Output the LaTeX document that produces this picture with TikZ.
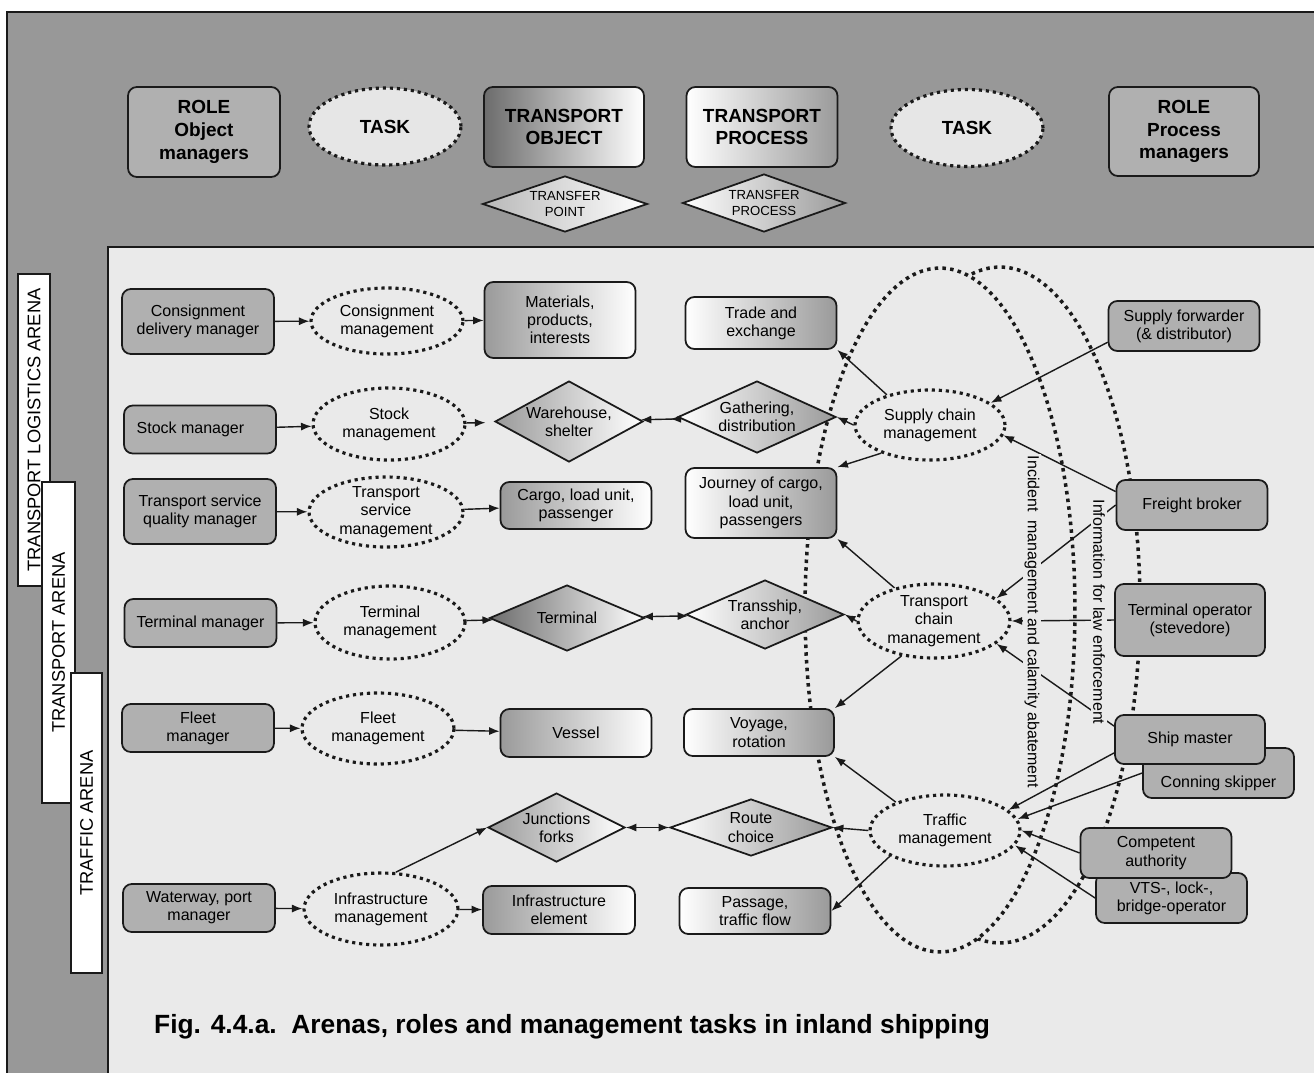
\documentclass[tikz,border=0pt]{standalone}
\usepackage{fontspec}
\setmainfont{Liberation Sans}
\usetikzlibrary{shapes}
\usetikzlibrary{arrows.meta}

\definecolor{framegray}{HTML}{989898}
\definecolor{panelgray}{HTML}{EAEAEA}
\definecolor{rolegray}{HTML}{B0B0B0}
\definecolor{taskgray}{HTML}{E6E6E6}
\definecolor{shadegray}{HTML}{9A9A9A}
\definecolor{darkshade}{HTML}{6C6C6C}
\definecolor{lightshade}{HTML}{B8B8B8}
\definecolor{inkgray}{HTML}{1A1A1A}

\newcommand{\diagfont}{\fontsize{9.1}{10.4}\selectfont}
\newcommand{\diaghead}{\fontsize{10.8}{13}\selectfont\bfseries}
\newcommand{\diagsmall}{\fontsize{7.5}{8.6}\selectfont}
\newcommand{\diagarena}{\fontsize{10.4}{12}\selectfont}
\newcommand{\diagcaption}{\fontsize{15}{18}\selectfont\bfseries}

\begin{document}
\begin{tikzpicture}[x=0.02cm, y=-0.02cm]

\tikzstyle{role}=[rectangle, rounded corners=5pt, line width=1pt, draw=inkgray, fill=rolegray, align=center, inner sep=2pt, font=\diagfont]
\tikzstyle{task}=[ellipse, line width=1.8pt, dash pattern=on 1.8pt off 2.2pt, draw=inkgray, align=center, inner sep=0pt, font=\diagfont]
\tikzstyle{object}=[rectangle, rounded corners=5pt, line width=1pt, draw=inkgray, left color=shadegray, right color=white, align=center, inner sep=2pt, font=\diagfont]
\tikzstyle{process}=[rectangle, rounded corners=5pt, line width=1pt, draw=inkgray, left color=white, right color=shadegray, align=center, inner sep=2pt, font=\diagfont]
\tikzstyle{objpoint}=[diamond, aspect=2, line width=1pt, draw=inkgray, left color=shadegray, right color=white, align=center, inner sep=0pt, font=\diagfont]
\tikzstyle{procpoint}=[diamond, aspect=2, line width=1pt, draw=inkgray, left color=white, right color=shadegray, align=center, inner sep=0pt, font=\diagfont]
\tikzstyle{arena}=[rectangle, line width=1pt, draw=inkgray, fill=white, rotate=90, inner sep=0pt, font=\diagarena]
\tikzstyle{ring}=[ellipse, line width=2pt, dash pattern=on 2pt off 2.4pt, draw=inkgray, fill=panelgray, inner sep=0pt]
\tikzstyle{note}=[rotate=-90, fill=panelgray, inner sep=1pt, font=\diagfont]

\tikzstyle{connect}=[draw=inkgray, line width=0.8pt, -{Latex[length=6pt,width=4.6pt]}]
\tikzstyle{bothways}=[{Latex[length=6pt,width=4.6pt]}-{Latex[length=6pt,width=4.6pt]}]
\tikzstyle{sameway}=[{Latex[reversed,length=6pt,width=4.6pt]}-{Latex[length=6pt,width=4.6pt]}]

\useasboundingbox (0,0) rectangle (1314,1073);

% frame and panel
\fill[framegray] (7,12) rectangle (1314,1073);
\draw[line width=1pt, inkgray] (1314,12) -- (7,12) -- (7,1073);
\fill[panelgray] (108,247) rectangle (1314,1073);
\draw[line width=1pt, inkgray] (1314,247) -- (108,247) -- (108,1073);

% arenas
\node[arena, minimum width=6.24cm, minimum height=0.64cm] (logarena) at (34,430) {TRANSPORT LOGISTICS ARENA};
\node[arena, minimum width=6.42cm, minimum height=0.66cm] (transarena) at (58.5,642.5) {TRANSPORT ARENA};
\node[arena, minimum width=6cm, minimum height=0.62cm] (trafarena) at (86.5,823) {TRAFFIC ARENA};

% header
\node[role, font=\diaghead, minimum width=3.04cm, minimum height=1.8cm] (roleobj) at (204,132) {ROLE\\Object\\managers};
\node[task, font=\diaghead, fill=taskgray, minimum width=3.04cm, minimum height=1.54cm] (taskobj) at (385,126.5) {TASK};
\node[object, font=\diaghead, left color=darkshade, minimum width=3.2cm, minimum height=1.6cm] (tobj) at (564,127) {TRANSPORT\\OBJECT};
\node[objpoint, aspect=2.9, font=\diagsmall, left color=lightshade, minimum width=3.3cm, minimum height=1.12cm] (tpoint) at (565,204) {TRANSFER\\POINT};
\node[process, font=\diaghead, minimum width=3.02cm, minimum height=1.6cm] (tproc) at (762,127) {TRANSPORT\\PROCESS};
\node[procpoint, aspect=2.8, font=\diagsmall, minimum width=3.26cm, minimum height=1.16cm] (tprocpoint) at (764,203) {TRANSFER\\PROCESS};
\node[task, font=\diaghead, fill=taskgray, minimum width=3.04cm, minimum height=1.54cm] (taskproc) at (967,128) {TASK};
\node[role, font=\diaghead, minimum width=3cm, minimum height=1.78cm] (roleproc) at (1184,131.5) {ROLE\\Process\\managers};

% the two big rings
\node[ring, minimum width=5.6cm, minimum height=13.52cm] (ringlaw) at (1000,605) {};
\node[ring, minimum width=5.4cm, minimum height=13.68cm] (ringincident) at (940,610) {};

% object side
\node[role, minimum width=3.04cm, minimum height=1.3cm] (cdm) at (198,321.5) {Consignment\\delivery manager};
\node[task, minimum width=3.04cm, minimum height=1.32cm] (cm) at (387,321) {Consignment\\management};
\node[object, minimum width=3.02cm, minimum height=1.52cm] (mat) at (560,320) {Materials,\\products,\\interests};

\node[role, minimum width=3.04cm, minimum height=0.96cm] (stm) at (200,429.5) {Stock manager\hspace*{1.2em}};
\node[task, minimum width=3.04cm, minimum height=1.44cm] (stmg) at (389,424) {Stock\\management};
\node[objpoint, aspect=1.8, minimum width=2.96cm, minimum height=1.62cm] (ware) at (569,421.5) {Warehouse,\\shelter};

\node[role, minimum width=3.04cm, minimum height=1.3cm] (tsqm) at (200,511.5) {Transport service\\quality manager};
\node[task, inner ysep=-7pt, minimum width=3.08cm, minimum height=1.4cm] (tsm) at (386,512) {Transport\\service\\management};
\node[object, minimum width=3.02cm, minimum height=0.94cm] (cargo) at (576,505.5) {Cargo, load unit,\\passenger};

\node[role, minimum width=3.04cm, minimum height=0.96cm] (tmgr) at (200.5,623) {Terminal manager};
\node[task, minimum width=3cm, minimum height=1.46cm] (tmg) at (390,622.5) {Terminal\\management};
\node[objpoint, aspect=2.35, left color=darkshade, minimum width=3.1cm, minimum height=1.32cm] (term) at (567,618) {Terminal};

\node[role, minimum width=3.04cm, minimum height=0.96cm] (fmgr) at (198,728) {Fleet\\manager};
\node[task, minimum width=3.04cm, minimum height=1.42cm] (fmg) at (378,728.5) {Fleet\\management};
\node[object, minimum width=3.02cm, minimum height=0.96cm] (vessel) at (576,733) {Vessel};

\node[role, minimum width=3.04cm, minimum height=0.96cm] (wpm) at (199,908) {Waterway, port\\manager};
\node[task, minimum width=3.08cm, minimum height=1.44cm] (img) at (381,909) {Infrastructure\\management};
\node[object, minimum width=3.04cm, minimum height=0.96cm] (infra) at (559,910) {Infrastructure\\element};
\node[objpoint, aspect=2, minimum width=2.74cm, minimum height=1.38cm] (junc) at (556.5,827.5) {Junctions\\forks};

% process side
\node[process, minimum width=3.02cm, minimum height=1.04cm] (trade) at (761,323) {Trade and\\exchange};
\node[procpoint, aspect=2.2, minimum width=3.16cm, minimum height=1.44cm] (gath) at (757,417) {Gathering,\\distribution};
\node[process, minimum width=3.02cm, minimum height=1.4cm] (journey) at (761,503) {Journey of cargo,\\load unit,\\passengers};
\node[procpoint, aspect=2.3, minimum width=3.16cm, minimum height=1.38cm] (trans) at (765,614.5) {Transship,\\anchor};
\node[process, minimum width=3cm, minimum height=0.94cm] (voyage) at (759,732.5) {Voyage,\\rotation};
\node[procpoint, aspect=2.85, minimum width=3.24cm, minimum height=1.14cm] (route) at (751,827.5) {Route\\choice};
\node[process, minimum width=3.02cm, minimum height=0.92cm] (passage) at (755,911) {Passage,\\traffic flow};

\node[task, minimum width=3cm, minimum height=1.4cm] (scm) at (930,425) {Supply chain\\management};
\node[task, inner ysep=-3pt, minimum width=3.04cm, minimum height=1.48cm] (tcm) at (934,621) {Transport\\chain\\management};
\node[task, minimum width=3cm, minimum height=1.42cm] (traffic) at (945,830.5) {Traffic\\management};

% process managers
\node[role, minimum width=3.02cm, minimum height=1cm] (sf) at (1184,326) {Supply forwarder\\(\& distributor)};
\node[role, minimum width=3.02cm, minimum height=1cm] (fb) at (1192,505) {Freight broker};
\node[role, minimum width=3cm, minimum height=1.44cm] (to) at (1190,620) {Terminal operator\\(stevedore)};
\node[role, text height=17pt, text depth=1pt, minimum width=3.02cm, minimum height=1cm] (cs) at (1218.5,773) {Conning skipper};
\node[role, minimum width=3cm, minimum height=0.98cm] (sm) at (1190,739.5) {Ship master};
\node[role, minimum width=3.02cm, minimum height=1cm] (vts) at (1171.5,898) {VTS-, lock-,\\bridge-operator};
\node[role, minimum width=3.02cm, minimum height=1cm] (ca) at (1156,853) {Competent\\authority};

% connections
\path (cdm) edge[connect] (cm);
\path (cm) edge[connect] (mat);
\path (stm) edge[connect] (stmg);
\path (stmg) edge[connect, shorten >=6pt] (ware);
\path (tsqm) edge[connect] (tsm);
\path (tsm) edge[connect] (cargo);
\path (tmgr) edge[connect] (tmg);
\path (tmg) edge[connect] (term);
\path (fmgr) edge[connect] (fmg);
\path (fmg) edge[connect] (vessel);
\path (wpm) edge[connect] (img);
\path (img) edge[connect] (infra);
\path (img.68) edge[connect] (junc.west);

\path (gath) edge[connect, sameway] (ware);
\path (term) edge[connect, bothways] (trans);
\path (junc) edge[connect, bothways] (route);

\path (scm.145) edge[connect] (trade.south east);
\path (scm.west) edge[connect] (gath.east);
\path (scm.210) edge[connect] (journey.north east);
\path (tcm.140) edge[connect] (journey.south east);
\path (tcm.west) edge[connect] (trans.east);
\path (tcm.227) edge[connect] (voyage.north east);
\path (traffic.150) edge[connect] (voyage.south east);
\path (traffic.west) edge[connect] (route.east);
\path (traffic.205) edge[connect] (passage.east);

\path (sf.192) edge[connect] (scm.20);
\path (fb.170) edge[connect] (scm.-8);
\path (fb.west) edge[connect] (tcm.20);
\path (to.west) edge[connect] (tcm.east);
\path (sm.170) edge[connect] (tcm.-20);
\path (sm.190) edge[connect] (traffic.18);
\path (cs.west) edge[connect] (traffic.9);
\path (ca.west) edge[connect] (traffic.east);
\path (vts.west) edge[connect] (traffic.-12);

% ring labels
\node[note] (incident) at (1032,622) {Incident\ \ management and calamity abatement};
\node[note] (lawinfo) at (1099,612) {Information for law enforcement};

\node[font=\diagcaption, anchor=west] (caption) at (148,1027) {Fig. 4.4.a.\ \ Arenas, roles and management tasks in inland shipping};

\end{tikzpicture}
\end{document}
